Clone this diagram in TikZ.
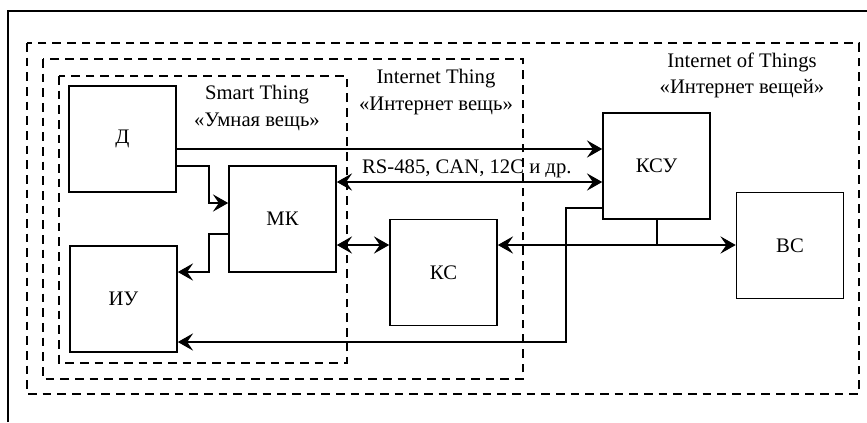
\documentclass[tikz,border=0pt]{standalone}
\usepackage{fontspec}
\setmainfont{Liberation Serif}
\usetikzlibrary{arrows.meta}
\begin{document}
\begin{tikzpicture}[x=0.75pt,y=-0.75pt,
  blk/.style={draw,line width=1.2pt,minimum width=80.25pt,minimum height=79.5pt,inner sep=0pt,font=\fontsize{15.5}{18}\selectfont},
  zone/.style={draw,line width=0.8pt,dash pattern=on 6.5pt off 4.5pt},
  conn/.style={line width=0.9pt},
  tip/.style={-{Stealth[length=11.5pt,width=13pt,inset=4.5pt]}},
  tips/.style={{Stealth[length=11.5pt,width=13pt,inset=4.5pt]}-{Stealth[length=11.5pt,width=13pt,inset=4.5pt]}},
  lbl/.style={font=\fontsize{15.5}{20}\selectfont,align=center,inner sep=0pt}]
\useasboundingbox (0,0) rectangle (867,422);
\draw[line width=1.2pt] (8,422) -- (8,11) -- (867,11);
% zones
\draw[zone] (27,43) rectangle (859,394);
\draw[zone] (43,59) rectangle (523,379);
\draw[zone] (59,76) rectangle (347,363);
% blocks
\node[blk] (D) at (122.5,139) {Д};
\node[blk] (MK) at (282.5,219) {МК};
\node[blk] (IU) at (123.5,299) {ИУ};
\node[blk] (KS) at (443.5,272.5) {КС};
\node[blk] (KSU) at (656.5,166) {КСУ};
\node[blk] (VS) at (790,245.5) {ВС};
% labels
\node[lbl] (st) at (257,108) {Smart Thing\\«Умная вещь»};
\node[lbl] (it) at (436,92) {Internet Thing\\«Интернет вещь»};
\node[lbl] (iot) at (742,75.5) {Internet of Things\\«Интернет вещей»};
% connectors
\coordinate (a1) at (D.east |- 0,149);
\draw[conn,tip] (a1) -- (KSU.west |- a1);
\coordinate (a2) at (D.east |- 0,166);
\coordinate (a2t) at (MK.west |- 0,203);
\draw[conn,tip] (a2) -| (209,203) -- (a2t);
\coordinate (a3) at (MK.east |- 0,182);
\draw[conn,tips] (a3) -- node[lbl,above=3pt,pos=0.49] (rs) {RS-485, CAN, 12C и др.} (KSU.west |- a3);
\coordinate (a4) at (MK.west |- 0,234);
\coordinate (a4t) at (IU.east |- 0,272);
\draw[conn,tip] (a4) -| (209,272) -- (a4t);
\coordinate (a5) at (MK.east |- 0,245);
\draw[conn,tips] (a5) -- (KS.west |- a5);
\coordinate (a6) at (KS.east |- 0,245);
\draw[conn,tips] (a6) -- (VS.west |- a6);
\coordinate (j) at (657,245);
\draw[conn] (KSU.south -| j) -- (j);
\coordinate (a7) at (KSU.west |- 0,208);
\coordinate (a7t) at (IU.east |- 0,342);
\draw[conn,tip] (a7) -| (566,342) -- (a7t);
\end{tikzpicture}
\end{document}
